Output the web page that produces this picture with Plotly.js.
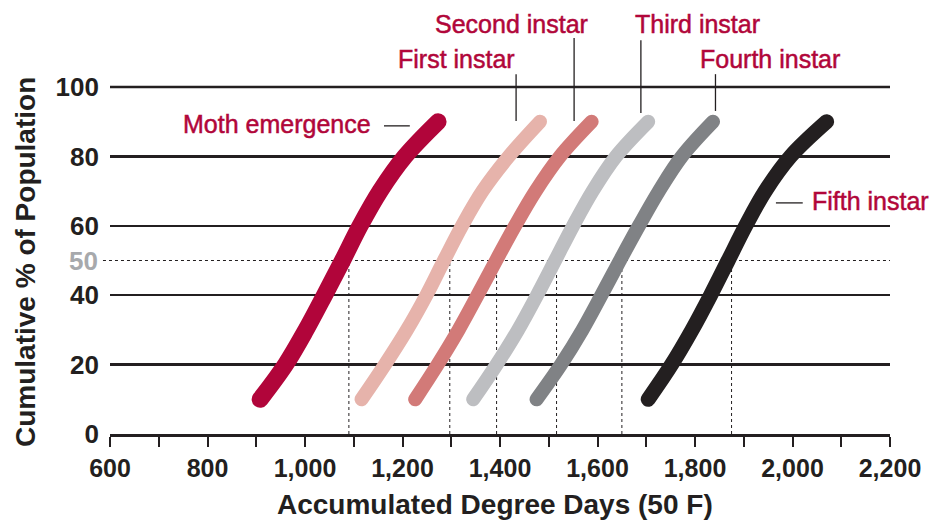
<!DOCTYPE html>
<html>
<head>
<meta charset="utf-8">
<script src="https://cdn.plot.ly/plotly-3.0.1.min.js"></script>
<style>
  html, body { margin: 0; padding: 0; background: #fff; }
  #chart { width: 932px; height: 521px; }
  .scatterlayer .js-line { stroke-linecap: round !important; stroke-linejoin: round !important; }
</style>
</head>
<body>
<div id="chart"></div>
<script>
// ---- data ----
const pct = [10, 20, 30, 40, 50, 60, 70, 80, 90];
const mothX   = [908, 960, 1002, 1040, 1077, 1113, 1154, 1205, 1273];
const firstX  = [1116, 1164, 1209, 1249, 1285, 1322, 1364, 1418, 1482];
const secondX = [1226, 1272, 1315, 1354, 1392, 1431, 1473, 1523, 1588];
const thirdX  = [1345, 1393, 1437, 1476, 1513, 1550, 1590, 1638, 1704];
const fourthX = [1475, 1525, 1569, 1608, 1646, 1685, 1726, 1773, 1837];
const fifthX  = [1704, 1752, 1794, 1832, 1868, 1904, 1944, 1996, 2070];
const medianX = [1090, 1297, 1393, 1516, 1650, 1875];
const seriesNames = ['Moth emergence', 'First instar', 'Second instar', 'Third instar', 'Fourth instar', 'Fifth instar'];
const xTickVals = [600, 700, 800, 900, 1000, 1100, 1200, 1300, 1400, 1500, 1600, 1700, 1800, 1900, 2000, 2100, 2200];
const xTickText = ['600', '', '800', '', '1,000', '', '1,200', '', '1,400', '', '1,600', '', '1,800', '', '2,000', '', '2,200'];
const yTickVals = [0, 20, 40, 60, 80, 100];

// ---- styling ----
const FONT = '"Liberation Sans", Arial, Helvetica, sans-serif';
const INK = '#231f20';
const LABEL = '#b1063a';
const colors = ['#b1053a', '#e6b3ab', '#d27a78', '#bdbec1', '#808285', '#231f20'];
const widths = [17, 14, 14, 14, 14, 15];
const seriesX = [mothX, firstX, secondX, thirdX, fourthX, fifthX];

const X0 = 600, X1 = 2200, Y0 = 0, Y1 = 100;
const px = x => (x - X0) / (X1 - X0);
const py = y => (y - Y0) / (Y1 - Y0);

const traces = seriesX.map((xs, i) => ({
  type: 'scatter', mode: 'lines', name: seriesNames[i],
  x: xs, y: pct,
  line: { color: colors[i], width: widths[i], shape: 'spline', smoothing: 1 },
  hoverinfo: 'skip', showlegend: false
}));

const shapes = [];
// top gridline (plot edge)
shapes.push({ type: 'line', xref: 'paper', yref: 'paper', x0: 0, x1: 1, y0: 1, y1: 1,
  line: { color: INK, width: 2.5 }, layer: 'below' });
// 50% dotted reference
shapes.push({ type: 'line', xref: 'paper', yref: 'paper', x0: -0.009, x1: 1, y0: py(50), y1: py(50),
  line: { color: INK, width: 1, dash: 'dot' }, layer: 'between' });
medianX.forEach(m => shapes.push({ type: 'line', xref: 'x', yref: 'y', x0: m, x1: m, y0: 0, y1: 50,
  line: { color: INK, width: 1, dash: 'dot' }, layer: 'between' }));

// leader lines (data units -> paper)
const leaders = [
  [1162, 88.8, 1215, 88.8],
  [1433, 103.7, 1433, 90.2],
  [1552, 114.1, 1552, 90.2],
  [1689, 113.5, 1689, 92.5],
  [1842, 103.7, 1842, 93.1],
  [1966, 66.6, 2021, 66.6]
];
leaders.forEach(l => shapes.push({ type: 'line', xref: 'paper', yref: 'paper',
  x0: px(l[0]), y0: py(l[1]), x1: px(l[2]), y1: py(l[3]),
  line: { color: INK, width: 1.3 }, layer: 'above' }));

const labelPos = [
  [1139.5, 89.4, 'right'],
  [1435, 108.0, 'right'],
  [1584.6, 118.2, 'right'],
  [1672.8, 118.2, 'left'],
  [1806, 108.0, 'left'],
  [2036, 67.2, 'left']
];
const annotations = labelPos.map((p, i) => ({
  text: seriesNames[i], xref: 'paper', yref: 'paper', x: px(p[0]), y: py(p[1]),
  xanchor: p[2], yanchor: 'middle', showarrow: false,
  font: { family: FONT, size: 25, color: LABEL }
}));
annotations.push({ text: '50', xref: 'paper', yref: 'paper', x: 0, y: py(50), xanchor: 'right', yanchor: 'middle',
  xshift: -10, showarrow: false, font: { family: FONT, size: 26, color: '#a7a9ac', weight: 'bold' } });
annotations.push({ text: 'Accumulated Degree Days (50 F)', xref: 'paper', yref: 'paper', x: 0.494, y: -0.2046,
  xanchor: 'center', yanchor: 'middle', showarrow: false, font: { family: FONT, size: 28, color: INK, weight: 'bold' } });
annotations.push({ text: 'Cumulative % of Population', xref: 'paper', yref: 'paper', x: -0.1077, y: 0.4957,
  xanchor: 'center', yanchor: 'middle', textangle: -90, showarrow: false,
  font: { family: FONT, size: 28, color: INK, weight: 'bold' } });

const layout = {
  width: 932, height: 521,
  margin: { l: 110, r: 42, t: 87, b: 87, pad: 0 },
  paper_bgcolor: '#fff', plot_bgcolor: '#fff',
  font: { family: FONT, color: INK },
  xaxis: {
    range: [X0, X1], tickmode: 'array', tickvals: xTickVals, ticktext: xTickText,
    ticks: 'outside', ticklen: 10, tickwidth: 2, tickcolor: INK,
    showline: true, linecolor: INK, linewidth: 2.5, showgrid: false, zeroline: false,
    tickfont: { family: FONT, size: 25, color: INK, weight: 'bold' }, fixedrange: true
  },
  yaxis: {
    range: [Y0, Y1], tickmode: 'array', tickvals: yTickVals,
    ticks: '', showline: false, showgrid: true, gridcolor: INK, gridwidth: 2.5, zeroline: false,
    ticklabelstandoff: 10,
    tickfont: { family: FONT, size: 26, color: INK, weight: 'bold' }, fixedrange: true
  },
  shapes: shapes,
  annotations: annotations,
  showlegend: false
};

Plotly.newPlot('chart', traces, layout, { displayModeBar: false, staticPlot: true }).then(() => {
  // slightly heavier stroke for the series labels (medium weight look)
  for (let i = 0; i < seriesNames.length; i++) {
    document.querySelectorAll('g.annotation[data-index="' + i + '"] text').forEach(t => {
      t.style.stroke = LABEL; t.style.strokeWidth = '0.5px';
    });
  }
});
</script>
</body>
</html>
